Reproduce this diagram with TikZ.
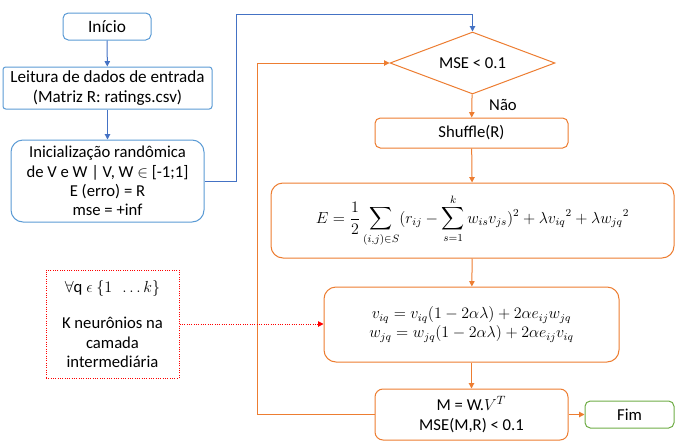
\documentclass[tikz,border=0pt]{standalone}
\usepackage{fontspec}
\setmainfont{Carlito}
\usepackage{amsmath}
\usetikzlibrary{shapes.geometric,arrows.meta}

\definecolor{azul}{HTML}{4472C4}
\definecolor{azulcx}{HTML}{5B9BD5}
\definecolor{laranja}{HTML}{ED7D31}
\definecolor{verde}{HTML}{70AD47}

\tikzset{
  caixa/.style={draw=#1, line width=0.75pt, align=center, inner sep=1pt, fill=white},
  seta/.style={line width=0.75pt, -{Triangle[length=4pt,width=4pt]}},
}

\begin{document}
\begin{tikzpicture}[x=0.75pt,y=-0.75pt,font=\fontsize{12.5}{14.5}\selectfont]
  \useasboundingbox (0,0) rectangle (687,447);

  % coluna da esquerda
  \node [caixa=azulcx, rounded corners=4pt, minimum width=88*0.75pt, minimum height=27*0.75pt, font=\fontsize{13}{15}\selectfont] (INI) at (107,26.5) {Início};
  \node [caixa=azulcx, rounded corners=2pt, minimum width=209*0.75pt, minimum height=42*0.75pt, font=\fontsize{12.8}{15}\selectfont] (LEIT) at (107.5,88) {Leitura de dados de entrada\\(Matriz R: ratings.csv)};
  \node [caixa=azulcx, rounded corners=9pt, minimum width=193*0.75pt, minimum height=82*0.75pt] (INIC) at (107.5,181) {Inicialização randômica\\de V e W | V, W $\in$ [-1;1]\\E (erro) = R\\mse = +inf};
  \node [draw=red, densely dotted, line width=0.75pt, align=center, minimum width=133*0.75pt, minimum height=108*0.75pt] (NEUR) at (112.5,324) {$\forall$q $\epsilon\ \{1\ \ \ldots k\}$\\[13pt]K neurônios na\\camada\\intermediária};

  % laço principal
  \node [caixa=laranja, diamond, aspect=2.66, inner sep=0pt, minimum width=165*0.75pt, minimum height=62*0.75pt] (MSE) at (472.5,63) {MSE < 0.1};
  \node [caixa=laranja, rounded corners=4pt, minimum width=193*0.75pt, minimum height=30*0.75pt] (SHUF) at (471.5,133) {Shuffle(R)};
  \node [caixa=laranja, rounded corners=9pt, minimum width=403*0.75pt, minimum height=75*0.75pt, font=\fontsize{11.5}{14}\selectfont] (ERRO) at (472.5,220.5)
    {$\displaystyle E=\frac{1}{2}\sum_{(i,j)\in S}(r_{ij}-\sum_{s=1}^{k}w_{is}v_{js})^{2}+\lambda {v_{iq}}^{2}+\lambda {w_{jq}}^{2}$};
  \node [caixa=laranja, rounded corners=9pt, minimum width=295*0.75pt, minimum height=75*0.75pt, font=\fontsize{12}{14.5}\selectfont] (ATU) at (471.5,324.5)
    {$v_{iq}=v_{iq}(1-2\alpha\lambda)+2\alpha e_{ij}w_{jq}$\\$w_{jq}=w_{jq}(1-2\alpha\lambda)+2\alpha e_{ij}v_{iq}$};
  \node [caixa=laranja, rounded corners=6pt, minimum width=193*0.75pt, minimum height=51*0.75pt] (MAT) at (471.5,414.5) {M = W.$V^{T}$\\MSE(M,R) < 0.1};
  \node [caixa=verde, rounded corners=4pt, minimum width=89*0.75pt, minimum height=27*0.75pt] (FIM) at (629.5,414.5) {Fim};
  \node (NAO) at (503,104.5) {Não};

  \coordinate (C1) at (236,14);
  \coordinate (C2) at (257,63);

  \draw [seta, azul] (INI) -- (LEIT);
  \draw [seta, azul] (LEIT) -- (INIC);
  \draw [seta, azul] (INIC.east) -| (C1) -| (MSE.north);
  \draw [seta, laranja] (MSE) -- (SHUF);
  \draw [seta, laranja] (SHUF) -- (ERRO);
  \draw [seta, laranja] (ERRO) -- (ATU);
  \draw [seta, laranja] (ATU) -- (MAT);
  \draw [seta, laranja] (MAT) -- (FIM);
  \draw [seta, laranja] (MAT.west) -| (C2) -- (MSE.west);
  \draw [seta, red, densely dotted] (NEUR.east) -- (NEUR.east -| ATU.west);
\end{tikzpicture}
\end{document}
